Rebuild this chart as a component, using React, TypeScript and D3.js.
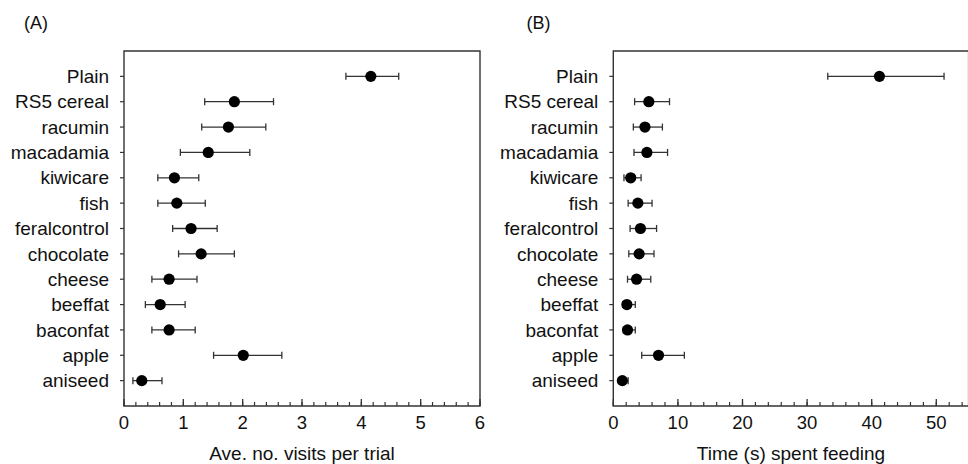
import React from "react";
import * as d3 from "d3";

const categories = [
  "Plain", "RS5 cereal", "racumin", "macadamia", "kiwicare", "fish",
  "feralcontrol", "chocolate", "cheese", "beeffat", "baconfat", "apple", "aniseed",
];

// (A) average number of visits per trial, mean with error bar ends
const visitsMean = [4.16, 1.86, 1.76, 1.42, 0.85, 0.89, 1.13, 1.3, 0.76, 0.61, 0.76, 2.01, 0.3];
const visitsLow = [3.74, 1.36, 1.31, 0.95, 0.57, 0.57, 0.82, 0.92, 0.47, 0.36, 0.47, 1.51, 0.15];
const visitsHigh = [4.63, 2.52, 2.39, 2.12, 1.26, 1.37, 1.57, 1.86, 1.23, 1.03, 1.2, 2.66, 0.64];

// (B) time (s) spent feeding
const timeMean = [41.2, 5.5, 4.9, 5.2, 2.7, 3.8, 4.2, 4.0, 3.6, 2.1, 2.2, 7.0, 1.4];
const timeLow = [33.2, 3.3, 3.1, 3.2, 1.65, 2.3, 2.6, 2.4, 2.2, 1.45, 1.55, 4.4, 0.8];
const timeHigh = [51.2, 8.7, 7.6, 8.4, 4.3, 6.0, 6.7, 6.3, 5.8, 3.4, 3.4, 11.0, 2.3];

const visitsTicks = [0, 1, 2, 3, 4, 5, 6];
const timeTicks = [0, 10, 20, 30, 40, 50];

const width = 968;
const height = 464;
const top = 51;
const bottom = 406;
const font = "Liberation Sans, Arial, sans-serif";
const ink = "#333";

type PanelProps = {
  label: string;
  title: string;
  left: number;
  right: number;
  domain: [number, number];
  ticks: number[];
  minorStep: number;
  mean: number[];
  low: number[];
  high: number[];
  labelX: number;
};

const Panel = ({ label, title, left, right, domain, ticks, minorStep, mean, low, high, labelX }: PanelProps) => {
  const x = d3.scaleLinear().domain(domain).range([left, right]);
  const y = d3.scalePoint<string>().domain(categories).range([top, bottom]).padding(1);
  const minor = d3.range(domain[0], domain[1] + 1e-9, minorStep);

  return (
    <g>
      <text x={labelX} y={29} fontSize={18} fontFamily={font} fill="#111">{label}</text>

      {/* frame */}
      <path d={`M${left},${top}H${right}V${bottom}H${left}Z`} fill="none" stroke={ink} strokeWidth={1.4} />

      {/* minor and major ticks, pointing inward */}
      {minor.map((v) => (
        <line key={"m" + v} x1={x(v)} x2={x(v)} y1={bottom} y2={bottom - 4} stroke={ink} strokeWidth={1.2} />
      ))}
      {ticks.map((v) => (
        <g key={"t" + v}>
          <line x1={x(v)} x2={x(v)} y1={bottom} y2={bottom - 7} stroke={ink} strokeWidth={1.3} />
          <text x={x(v)} y={429} textAnchor="middle" fontSize={18.5} fontFamily={font} fill="#111">{v}</text>
        </g>
      ))}

      <text x={(left + right) / 2} y={460} textAnchor="middle" fontSize={19} fontFamily={font} fill="#111">{title}</text>

      {categories.map((c, i) => {
        const cy = y(c)!;
        return (
          <g key={c}>
            <line x1={left - 4} x2={left} y1={cy} y2={cy} stroke={ink} strokeWidth={1.2} />
            <text x={left - 15} y={cy} dy="0.35em" textAnchor="end" fontSize={19} fontFamily={font} fill="#111">{c}</text>
            <line x1={x(low[i])} x2={x(high[i])} y1={cy} y2={cy} stroke={ink} strokeWidth={1.3} />
            <line x1={x(low[i])} x2={x(low[i])} y1={cy - 3.5} y2={cy + 3.5} stroke={ink} strokeWidth={1.3} />
            <line x1={x(high[i])} x2={x(high[i])} y1={cy - 3.5} y2={cy + 3.5} stroke={ink} strokeWidth={1.3} />
            <circle cx={x(mean[i])} cy={cy} r={5.6} fill="#000" />
          </g>
        );
      })}
    </g>
  );
};

export default function App() {
  return (
    <svg width={width} height={height} style={{ position: "absolute", left: 0, top: 0, background: "#fff" }}>
      <Panel
        label="(A)" title="Ave. no. visits per trial" left={124} right={480} domain={[0, 6]}
        ticks={visitsTicks} minorStep={0.2} mean={visitsMean} low={visitsLow} high={visitsHigh} labelX={24}
      />
      <Panel
        label="(B)" title="Time (s) spent feeding" left={613.3} right={968.6} domain={[0, 55]}
        ticks={timeTicks} minorStep={2} mean={timeMean} low={timeLow} high={timeHigh} labelX={526.5}
      />
    </svg>
  );
}
